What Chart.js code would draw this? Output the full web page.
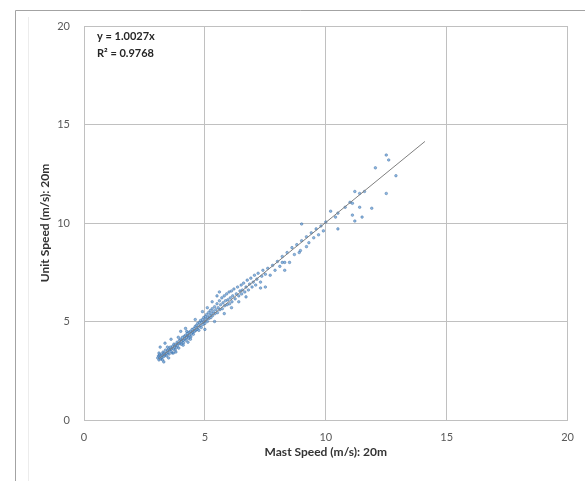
<!DOCTYPE html>
<html>
<head>
<meta charset="utf-8">
<script src="https://cdn.jsdelivr.net/npm/chart.js@4"></script>
<style>
  html, body { margin: 0; padding: 0; background: #fff; }
  canvas { display: block; }
</style>
</head>
<body>
<canvas id="graficoVelocidade" width="585" height="481"></canvas>
<script>
// pontos [velocidade do mastro, velocidade da unidade]
const pontosBaixos = [
  [3.05,3.15],[3.08,3.25],[3.1,3.05],[3.12,3.3],[3.15,3.2],[3.18,3.1],[3.2,3.35],[3.22,3.18],
  [3.25,3.28],[3.27,3.45],[3.3,3.22],[3.32,3.4],[3.35,3.3],[3.37,3.55],[3.4,3.38],[3.42,3.25],
  [3.45,3.5],[3.47,3.42],[3.5,3.6],[3.52,3.35],[3.55,3.55],[3.57,3.7],[3.6,3.48],[3.62,3.62],
  [3.65,3.4],[3.67,3.75],[3.7,3.6],[3.72,3.85],[3.75,3.7],[3.77,3.55],[3.8,3.82],[3.82,3.68],
  [3.85,3.95],[3.87,3.78],[3.9,3.88],[3.92,3.65],[3.95,4.05],[3.97,3.9],[4.0,4.1],[4.02,3.85],
  [4.05,4.0],[4.07,4.2],[4.1,4.05],[4.12,3.92],[4.15,4.25],[4.17,4.12],[4.2,4.3],[4.22,4.05],
  [4.25,4.2],[4.27,4.4],[4.3,4.28],[4.32,4.15],[4.35,4.45],[4.37,4.3],[4.4,4.5],[4.42,4.22],
  [4.45,4.4],[4.47,4.6],[4.5,4.45],[3.15,3.7],[3.35,3.9],[3.6,4.1],[3.3,2.95],[3.5,3.15],
  [3.8,3.45],[4.0,4.5],[4.2,4.65],[4.3,3.95],[3.1,3.4],[3.25,3.05],[3.45,3.7],[3.7,3.4],
  [3.9,4.2],[4.1,3.8],[4.25,4.5],[4.4,4.1]
];

const pontosMedios = [
  [4.52,4.35],[4.55,4.65],[4.57,4.5],[4.6,4.75],[4.62,4.55],[4.65,4.8],[4.67,4.6],[4.7,4.9],
  [4.72,4.7],[4.75,4.55],[4.77,4.95],[4.8,4.8],[4.82,5.05],[4.85,4.7],[4.87,4.95],[4.9,5.1],
  [4.92,4.85],[4.95,5.2],[4.97,5.0],[5.0,4.9],[5.02,5.25],[5.05,5.1],[5.07,5.35],[5.1,5.0],
  [5.12,5.2],[5.15,5.45],[5.17,5.15],[5.2,5.3],[5.22,5.55],[5.25,5.2],[5.27,5.4],[5.3,5.65],
  [5.32,5.3],[5.35,5.5],[5.4,5.75],[5.42,5.4],[5.45,5.6],[5.5,5.9],[5.52,5.45],[5.55,5.7],
  [5.6,6.05],[5.62,5.6],[5.65,5.85],[5.7,6.2],[5.72,5.65],[5.75,5.95],[5.8,6.3],[5.82,5.8],
  [5.85,6.05],[5.9,6.4],[5.92,5.85],[5.95,6.1],[6.0,6.5],[6.02,5.9],[6.05,6.2],[6.1,6.55],
  [6.12,6.0],[6.15,6.3],[6.2,6.65],[6.25,6.15],[6.3,6.4],[6.35,6.75],[6.4,6.3],[6.45,6.55],
  [6.5,6.85],[6.52,6.4],[4.6,5.1],[4.9,5.5],[5.1,5.7],[5.3,6.0],[5.5,6.3],[5.6,6.5],
  [5.0,4.6],[5.4,5.0],[5.8,5.4],[6.1,5.7],[6.4,6.0]
];

const pontosAltos = [
  [6.55,6.6],[6.6,6.95],[6.65,6.5],[6.7,6.75],[6.75,7.1],[6.8,6.6],[6.85,6.9],[6.9,7.2],
  [6.95,6.75],[7.0,7.0],[7.05,7.35],[7.1,6.85],[7.15,7.15],[7.2,7.45],[7.3,7.0],[7.35,7.3],
  [7.4,7.6],[7.5,6.75],[7.5,7.4],[7.6,7.7],[7.7,7.35],[7.8,7.85],[7.9,7.6],[8.0,8.05],
  [8.1,7.8],[8.2,8.3],[8.2,8.0],[8.3,8.0],[8.4,8.5],[8.5,8.0],[8.6,8.75],[8.7,8.4],
  [8.8,8.9],[8.9,8.5],[8.95,8.6],[9.0,9.95],[9.0,9.1],[9.2,8.8],[9.2,9.3],[9.3,9.0],
  [9.4,9.5],[9.5,9.25],[9.6,9.7],[9.7,9.4],[9.8,9.85],[9.9,9.6],[10.0,10.05],[6.7,6.25],
  [7.3,6.7],[8.3,7.6]
];

const pontosExtremos = [
  [10.2,10.6],[10.4,10.3],[10.5,9.7],[10.5,10.5],[10.8,10.8],[11.0,11.05],[11.1,11.0],
  [11.1,10.4],[11.2,11.6],[11.2,10.1],[11.4,11.5],[11.4,10.8],[11.5,10.3],[11.6,11.6],
  [11.9,10.75],[12.05,12.8],[12.5,11.5],[12.5,13.45],[12.6,13.2],[12.9,12.4]
];

// linha de tendência y = 1.0027x (extremos)
const tendenciaX = [3.1, 14.1];
const tendenciaY = [3.11, 14.14];

const marcasEixo = [0, 5, 10, 15, 20];
const textoEquacao = ["y = 1.0027x", "R\u00b2 = 0.9768"];

const todosPontos = pontosBaixos.concat(pontosMedios, pontosAltos, pontosExtremos)
  .map((p) => ({ x: p[0], y: p[1] }));
const pontosTendencia = tendenciaX.map((x, i) => ({ x: x, y: tendenciaY[i] }));

// moldura externa e texto da equação
const moldura = {
  id: "moldura",
  beforeDraw(chart) {
    const ctx = chart.ctx;
    ctx.save();
    ctx.strokeStyle = "#a3a3a3";
    ctx.lineWidth = 1;
    ctx.beginPath();
    ctx.moveTo(15.5, 481);
    ctx.lineTo(15.5, 10.5);
    ctx.lineTo(585, 10.5);
    ctx.stroke();
    ctx.strokeStyle = "#ececec";
    ctx.beginPath();
    ctx.moveTo(28.5, 481);
    ctx.lineTo(28.5, 17);
    ctx.stroke();
    ctx.restore();
  },
  afterDraw(chart) {
    const ctx = chart.ctx;
    const area = chart.chartArea;
    ctx.save();
    ctx.fillStyle = "#262626";
    ctx.font = "bold 11px Lato";
    ctx.textBaseline = "middle";
    ctx.fillText(textoEquacao[0], area.left + 13, 36);
    ctx.fillText(textoEquacao[1], area.left + 13, 53);
    ctx.restore();
  }
};

const grafico = document.getElementById("graficoVelocidade");

new Chart(grafico, {
  type: "scatter",
  data: {
    datasets: [{
      label: "Trend",
      type: "line",
      data: pontosTendencia,
      borderColor: "#7f7f7f",
      borderWidth: 1,
      pointRadius: 0,
      fill: false
    }, {
      label: "Unit Speed",
      data: todosPontos,
      pointRadius: 1.3,
      pointBorderWidth: 0.5,
      backgroundColor: "rgba(91,155,213,0.7)",
      borderColor: "rgba(52,96,150,0.8)"
    }]
  },
  options: {
    responsive: false,
    animation: false,
    layout: { padding: { left: 15, top: 26, right: 15, bottom: 0 } },
    plugins: {
      legend: { display: false },
      tooltip: { enabled: false }
    },
    scales: {
      x: {
        type: "linear",
        min: 0,
        max: 20,
        afterBuildTicks(scale) { scale.ticks = marcasEixo.map((v) => ({ value: v })); },
        afterFit(scale) { scale.height = 61; },
        grid: { color: "#c0c0c0", drawTicks: false },
        border: { color: "#c0c0c0" },
        ticks: { color: "#595959", font: { family: "Lato", size: 11 }, padding: 11 },
        title: {
          display: true,
          text: "Mast Speed (m/s): 20m",
          color: "#333333",
          font: { family: "Lato", size: 12, weight: "bold" },
          padding: { top: 0, bottom: 22 }
        }
      },
      y: {
        type: "linear",
        min: 0,
        max: 20,
        afterBuildTicks(scale) { scale.ticks = marcasEixo.map((v) => ({ value: v })); },
        afterFit(scale) { scale.width = 69; },
        grid: { color: "#c0c0c0", drawTicks: false },
        border: { color: "#c0c0c0" },
        ticks: { color: "#595959", font: { family: "Lato", size: 11 }, padding: 14 },
        title: {
          display: true,
          text: "Unit Speed (m/s): 20m",
          color: "#333333",
          font: { family: "Lato", size: 12, weight: "bold" },
          padding: { top: 23, bottom: 0 }
        }
      }
    }
  },
  plugins: [moldura]
});
</script>
</body>
</html>
